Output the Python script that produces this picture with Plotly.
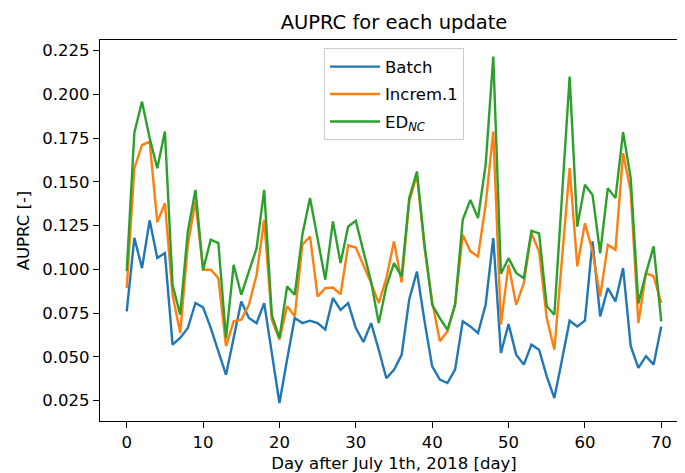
import plotly.graph_objects as go

days = list(range(71))

batch = [0.076, 0.118, 0.1007, 0.128, 0.1065, 0.1093, 0.057, 0.0608, 0.0665, 0.0808,
         0.0783, 0.0666, 0.0531, 0.0398, 0.0608, 0.0817, 0.0722, 0.0693, 0.0807, 0.0531,
         0.0237, 0.0485, 0.0722, 0.0693, 0.0707, 0.0693, 0.0656, 0.0836, 0.0769, 0.0807,
         0.0665, 0.0585, 0.0693, 0.0541, 0.0378, 0.0427, 0.0512, 0.083, 0.0988, 0.0703,
         0.0446, 0.037, 0.0351, 0.0427, 0.0703, 0.0674, 0.0636, 0.0798, 0.1179, 0.0522,
         0.0688, 0.0513, 0.0456, 0.057, 0.0541, 0.0389, 0.0265, 0.0484, 0.0707, 0.0674,
         0.0707, 0.116, 0.0731, 0.0893, 0.0817, 0.1007, 0.0561, 0.0437, 0.0504, 0.0456,
         0.0674]

increm1 = [0.0893, 0.1578, 0.171, 0.173, 0.127, 0.1378, 0.0855, 0.0636, 0.1141, 0.1388,
           0.0998, 0.0998, 0.095, 0.0562, 0.0703, 0.0713, 0.0798, 0.0969, 0.1283, 0.0713,
           0.0599, 0.079, 0.0732, 0.1141, 0.1188, 0.0845, 0.0893, 0.0896, 0.0858, 0.1137,
           0.1125, 0.1026, 0.0922, 0.0807, 0.095, 0.116, 0.0925, 0.1389, 0.154, 0.112,
           0.0817, 0.0589, 0.0646, 0.0798, 0.1198, 0.1103, 0.1074, 0.1369, 0.1787, 0.0684,
           0.1026, 0.0798, 0.0922, 0.1207, 0.1102, 0.0722, 0.0541, 0.106, 0.1578, 0.1017,
           0.1264, 0.1102, 0.0845, 0.1141, 0.1112, 0.1664, 0.1445, 0.0693, 0.0979, 0.096,
           0.0807]

ed_nc = [0.099, 0.178, 0.1958, 0.175, 0.1578, 0.1787, 0.0912, 0.0741, 0.1217, 0.1454,
         0.0998, 0.117, 0.115, 0.0608, 0.1026, 0.0855, 0.0988, 0.112, 0.1454, 0.0739,
         0.0608, 0.0903, 0.0855, 0.1198, 0.1408, 0.1178, 0.0941, 0.1274, 0.1036, 0.1245,
         0.1277, 0.1102, 0.0931, 0.0693, 0.0903, 0.1036, 0.096, 0.1408, 0.1559, 0.114,
         0.0798, 0.0722, 0.0655, 0.0798, 0.1283, 0.1397, 0.1293, 0.1597, 0.2215, 0.0975,
         0.1064, 0.098, 0.095, 0.122, 0.1206, 0.0789, 0.0741, 0.142, 0.2101, 0.1244,
         0.1483, 0.1425, 0.1092, 0.1464, 0.1407, 0.1784, 0.152, 0.0806, 0.0979, 0.1131,
         0.0703]

series_names = ["Batch", "Increm.1", "ED<sub><i>NC</i></sub>"]
series_colors = ["#1f77b4", "#ff7f0e", "#2ca02c"]
x_ticks = [0, 10, 20, 30, 40, 50, 60, 70]
y_ticks = [0.025, 0.05, 0.075, 0.1, 0.125, 0.15, 0.175, 0.2, 0.225]

FONT = "DejaVu Sans"
fig = go.Figure()
for i, (name, vals, col) in enumerate(zip(series_names, [batch, increm1, ed_nc], series_colors)):
    fig.add_trace(go.Scatter(x=days, y=vals, mode="lines", name=name,
                             legendgroup=str(i),
                             line=dict(color=col, width=2.4)))

axis_common = dict(showline=True, linecolor="black", linewidth=1.3, mirror=True,
                   ticks="outside", ticklen=6, tickwidth=1.3, tickcolor="black",
                   showgrid=False, zeroline=False,
                   tickfont=dict(family=FONT, size=16.5, color="black"))

fig.update_layout(
    width=685, height=473,
    margin=dict(l=92, r=5, t=32, b=60),
    paper_bgcolor="white", plot_bgcolor="white",
    font=dict(family=FONT, size=16.5, color="black"),
    title=dict(text="AUPRC for each update", x=0.5, xref="paper", xanchor="center",
               y=1 - 14 / 473, yref="container", yanchor="middle",
               font=dict(family=FONT, size=19.5, color="black")),
    xaxis=dict(range=[-3.5, 73.5], tickvals=x_ticks,
               title=dict(text="Day after July 1th, 2018 [day]", standoff=6,
                          font=dict(family=FONT, size=16.5)),
               **axis_common),
    yaxis=dict(range=[0.0134, 0.231], tickvals=y_ticks, tickformat=".3f",
               title=dict(text="AUPRC [-]", standoff=8,
                          font=dict(family=FONT, size=16.5)),
               **axis_common),
    legend=dict(x=0.5, xanchor="center", y=0.978, yanchor="top",
                bgcolor="rgba(255,255,255,0.8)", bordercolor="#cccccc", borderwidth=1,
                font=dict(family=FONT, size=16.5), itemwidth=50,
                traceorder="grouped", tracegroupgap=3),
    showlegend=True,
)

fig.write_html("out.html")
